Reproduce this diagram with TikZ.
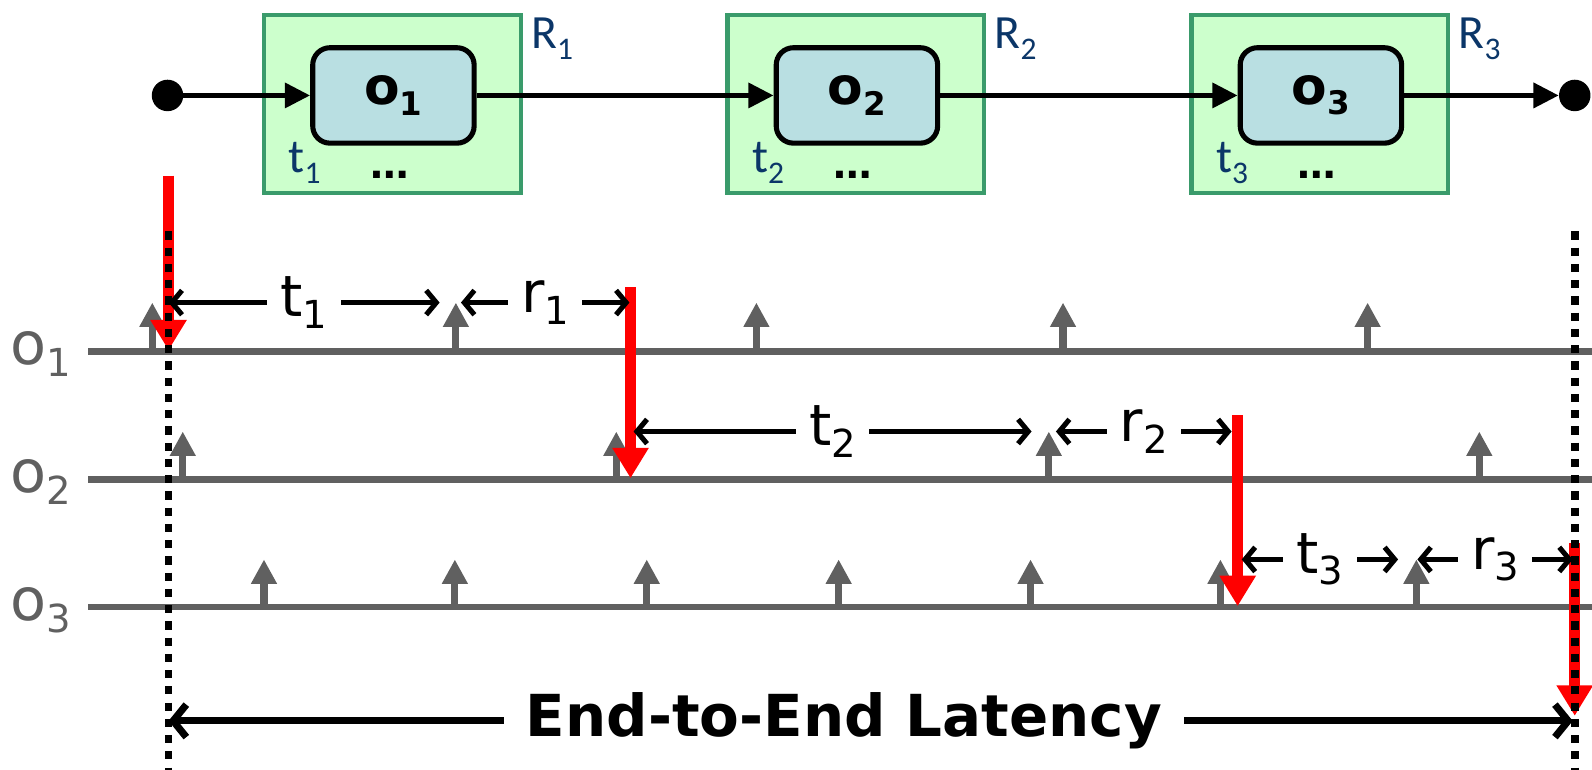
\documentclass[tikz,border=0pt]{standalone}
\usepackage{fontspec}
\setmainfont{DejaVu Sans}
\newfontfamily\calfont{Carlito}
\usetikzlibrary{arrows.meta}
\definecolor{rgreen}{HTML}{CCFFCC}
\definecolor{rborder}{HTML}{3A9B6B}
\definecolor{obox}{HTML}{B9DFE2}
\definecolor{tgray}{HTML}{606060}
\definecolor{dblue}{HTML}{0B3668}
\newcommand\subA[1]{\raisebox{-0.2em}{\fontsize{38}{40}\selectfont #1}}
\newcommand\subB[1]{\raisebox{-0.2em}{\fontsize{32}{34}\selectfont\bfseries #1}}
\newcommand\subC[1]{\raisebox{-0.22em}{\fontsize{31}{33}\selectfont #1}}
\tikzset{
  region/.style={draw=rborder, fill=rgreen, line width=4pt, minimum width=253pt, minimum height=175pt, inner sep=0pt},
  opbox/.style={draw=black, fill=obox, line width=5pt, rounded corners=17pt, minimum width=159pt, minimum height=94pt, inner sep=0pt, font=\bfseries\fontsize{51}{53}\selectfont},
  flow/.style={line width=5.5pt, -{Triangle[length=25pt,width=24pt]}},
  enddot/.style={circle, fill=black, minimum size=31pt, inner sep=0pt},
  bluelabel/.style={text=dblue, font=\calfont\fontsize{47}{49}\selectfont, inner sep=0pt},
  dotslabel/.style={font=\bfseries\fontsize{38}{40}\selectfont, inner sep=0pt},
  tline/.style={draw=tgray, line width=6.5pt},
  olabel/.style={text=tgray, font=\fontsize{58}{60}\selectfont, inner sep=0pt},
  tick/.style={draw=tgray, line width=7pt, -{Triangle[length=24pt,width=24pt]}},
  event/.style={draw=red, line width=10.5pt, -{Triangle[length=30pt,width=34pt]}},
  guide/.style={line width=7.5pt, dash pattern=on 8pt off 8pt},
  meas/.style={line width=5pt, {Straight Barb[length=10pt,width=24pt]}-{Straight Barb[length=10pt,width=24pt]}},
  measlabel/.style={fill=white, inner xsep=13pt, inner ysep=0pt, font=\fontsize{56}{60}\selectfont},
  latency/.style={line width=7pt, {Straight Barb[length=13pt,width=32pt]}-{Straight Barb[length=13pt,width=32pt]}},
  latlabel/.style={fill=white, inner xsep=22pt, inner ysep=0pt, font=\bfseries\fontsize{57}{60}\selectfont},
}
\begin{document}
\begin{tikzpicture}[x=1pt,y=-1pt]
\useasboundingbox (0,0) rectangle (1568,758);
% ---- top: pipeline ----
\node[region] (R1) at (386.5,102.5) {};
\node[region] (R2) at (843,102.5) {};
\node[region] (R3) at (1300,102.5) {};
\node[opbox] (o1) at (387.5,94) {o\subB{1}};
\node[opbox] (o2) at (844,94) {o\subB{2}};
\node[opbox] (o3) at (1301,94) {o\subB{3}};
\node[enddot] (start) at (165,94) {};
\node[enddot] (end) at (1551,94) {};
\draw[flow] (start) -- (o1);
\draw[flow] (o1) -- (o2);
\draw[flow] (o2) -- (o3);
\draw[flow] (o3) -- (end);
\foreach \i in {1,2,3}{
  \node[bluelabel, anchor=base west] (Rl\i) at ([xshift=8pt,yshift=-35pt]R\i.north east) {R\subC{\i}};
  \node[bluelabel, anchor=base west] (tl\i) at ([xshift=26pt,yshift=22pt]R\i.south west) {t\subC{\i}};
  \node[dotslabel, anchor=base] (dots\i) at ([xshift=-3pt,yshift=16pt]R\i.south) {…};
}
% ---- timelines ----
\coordinate (L1a) at (87,346); \coordinate (L1b) at (1568,346);
\coordinate (L2a) at (87,472); \coordinate (L2b) at (1568,472);
\coordinate (L3a) at (87,598); \coordinate (L3b) at (1568,598);
\draw[tline] (L1a) -- (L1b);
\draw[tline] (L2a) -- (L2b);
\draw[tline] (L3a) -- (L3b);
\node[olabel, anchor=base west] (lab1) at (10,359) {o\subA{1}};
\node[olabel, anchor=base west] (lab2) at (10,485) {o\subA{2}};
\node[olabel, anchor=base west] (lab3) at (10,611) {o\subA{3}};
\foreach \x in {150,449,745,1047,1347} \draw[tick] (\x,346) -- (\x,298);
\foreach \x in {180,607,1033,1457} \draw[tick] (\x,472) -- (\x,425);
\foreach \x in {260,448,637,826,1015,1202,1395} \draw[tick] (\x,598) -- (\x,551);
% ---- events ----
\coordinate (ev1a) at (166,173); \coordinate (ev1b) at (166,345);
\coordinate (ev2a) at (621,283); \coordinate (ev2b) at (621,471);
\coordinate (ev3a) at (1219,409); \coordinate (ev3b) at (1219,597);
\coordinate (ev4a) at (1551,535); \coordinate (ev4b) at (1551,705);
\draw[event] (ev1a) -- (ev1b);
\draw[event] (ev2a) -- (ev2b);
\draw[event] (ev3a) -- (ev3b);
\draw[event] (ev4a) -- (ev4b);
% ---- guides ----
\coordinate (g1a) at (166,228); \coordinate (g1b) at (166,758);
\coordinate (g2a) at (1551,228); \coordinate (g2b) at (1551,758);
\draw[guide] (g1a) -- (g1b);
\draw[guide] (g2a) -- (g2b);
% ---- measurements ----
\coordinate (m1a) at (166,298); \coordinate (m1b) at (433,298);
\coordinate (m2a) at (454,298); \coordinate (m2b) at (620,298);
\coordinate (m3a) at (624,425); \coordinate (m3b) at (1016,425);
\coordinate (m4a) at (1040,425); \coordinate (m4b) at (1213,425);
\coordinate (m5a) at (1223,551); \coordinate (m5b) at (1377,551);
\coordinate (m6a) at (1396,551); \coordinate (m6b) at (1549,551);
\draw[meas] (m1a) -- node[measlabel] (lt1) {t\subA{1}} (m1b);
\draw[meas] (m2a) -- node[measlabel] (lr1) {r\subA{1}} (m2b);
\draw[meas] (m3a) -- node[measlabel] (lt2) {t\subA{2}} (m3b);
\draw[meas] (m4a) -- node[measlabel] (lr2) {r\subA{2}} (m4b);
\draw[meas] (m5a) -- node[measlabel] (lt3) {t\subA{3}} (m5b);
\draw[meas] (m6a) -- node[measlabel] (lr3) {r\subA{3}} (m6b);
\coordinate (la) at (166,710); \coordinate (lb) at (1549,710);
\draw[latency] (la) -- node[latlabel, pos=0.481] (lat) {End-to-End Latency} (lb);
\end{tikzpicture}
\end{document}
